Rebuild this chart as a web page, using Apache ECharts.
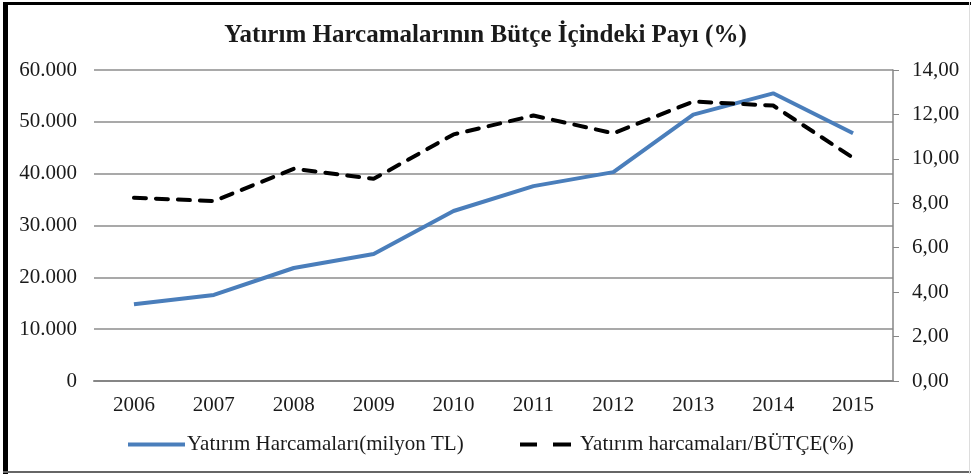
<!DOCTYPE html>
<html><head><meta charset="utf-8">
<script src="https://cdn.jsdelivr.net/npm/echarts@6/dist/echarts.min.js"></script>
<style>html,body{margin:0;padding:0;background:#fff}#c{width:971px;height:474px}</style>
</head><body><div id="c"></div>
<script>
const categories = ['2006','2007','2008','2009','2010','2011','2012','2013','2014','2015'];
const yatirim = [14800, 16600, 21800, 24500, 32800, 37600, 40300, 51400, 55500, 47800];
const oran = [8.25, 8.10, 9.55, 9.10, 11.10, 11.95, 11.15, 12.58, 12.40, 10.05];
const leftTicks = [0, 10000, 20000, 30000, 40000, 50000, 60000];
const rightTicks = [0, 2, 4, 6, 8, 10, 12, 14];
const seriesNames = ['Yatırım Harcamaları(milyon TL)', 'Yatırım harcamaları/BÜTÇE(%)'];
const titleText = 'Yatırım Harcamalarının Bütçe İçindeki Payı (%)';

const font = 'Liberation Serif';
const labelColor = '#1a1a1a';
const chart = echarts.init(document.getElementById('c'));
chart.setOption({
  animation: false,
  title: { text: titleText, left: 'center', top: 18,
    textStyle: { fontFamily: font, fontWeight: 'bold', fontSize: 25, color: labelColor } },
  grid: { left: 94, right: 78, top: 70, bottom: 93, containLabel: false },
  legend: [
    { top: 434, left: 128, itemWidth: 57, itemHeight: 4, padding: 0,
      textStyle: { fontFamily: font, fontSize: 21, color: labelColor, padding: [0,0,0,-3] },
      data: [{ name: seriesNames[0], icon: 'rect' }] },
    { top: 434, left: 520, itemWidth: 51, itemHeight: 4, padding: 0,
      textStyle: { fontFamily: font, fontSize: 21, color: labelColor, padding: [0,0,0,4] },
      data: [{ name: seriesNames[1], icon: 'path://M0,0L17,0L17,4L0,4Z M33,0L51,0L51,4L33,4Z' }] }
  ],
  xAxis: {
    type: 'category', data: categories, boundaryGap: true,
    axisLine: { show: true, lineStyle: { color: '#868686', width: 2 } },
    axisTick: { show: false },
    axisLabel: { fontFamily: font, fontSize: 21, color: labelColor, margin: 14 }
  },
  yAxis: [
    { type: 'value', min: leftTicks[0], max: leftTicks[leftTicks.length-1], interval: 10000,
      axisLine: { show: false }, axisTick: { show: false },
      splitLine: { lineStyle: { color: '#8c8c8c', width: 1.5 } },
      axisLabel: { fontFamily: font, fontSize: 21, color: labelColor, margin: 17,
        formatter: v => v === 0 ? '0' : (v/1000).toFixed(3) } },
    { type: 'value', min: rightTicks[0], max: rightTicks[rightTicks.length-1], interval: 2,
      position: 'right',
      axisLine: { show: true, lineStyle: { color: '#868686', width: 1.5 } },
      axisTick: { show: true, length: 6, lineStyle: { color: '#868686' } },
      splitLine: { show: false },
      axisLabel: { fontFamily: font, fontSize: 21, color: labelColor, margin: 19,
        formatter: v => v.toFixed(2).replace('.', ',') } }
  ],
  series: [
    { name: seriesNames[0], type: 'line', yAxisIndex: 0, data: yatirim,
      symbol: 'none', itemStyle: { color: '#4a7ebb' },
      lineStyle: { color: '#4a7ebb', width: 4 } },
    { name: seriesNames[1], type: 'line', yAxisIndex: 1, data: oran,
      symbol: 'none', itemStyle: { color: '#000' },
      lineStyle: { color: '#000', width: 4, type: [12, 10], cap: 'round' } }
  ],
  graphic: [
    { type: 'rect', shape: { x: 3, y: 2, width: 5, height: 472 }, style: { fill: '#000' } },
    { type: 'rect', shape: { x: 3, y: 2, width: 968, height: 3 }, style: { fill: '#000' } },
    { type: 'rect', shape: { x: 3, y: 471, width: 968, height: 2 }, style: { fill: '#666' } },
    { type: 'rect', shape: { x: 969, y: 2, width: 1, height: 472 }, style: { fill: '#ddd' } }
  ]
});
</script></body></html>
